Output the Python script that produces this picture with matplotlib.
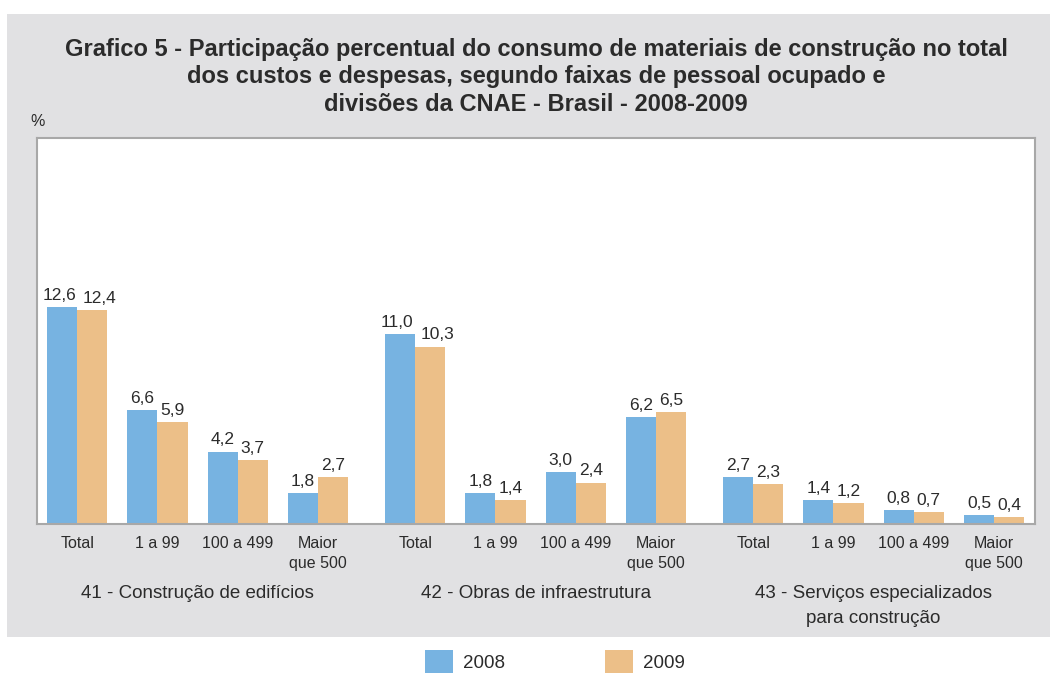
import matplotlib.pyplot as plt
from matplotlib.patches import Rectangle
import matplotlib.transforms as mtransforms

categories = ['Total', '1 a 99', '100 a 499', 'Maior\nque 500']
groups = ['41 - Construção de edifícios',
          '42 - Obras de infraestrutura',
          '43 - Serviços especializados\npara construção']
v2008 = [12.6, 6.6, 4.2, 1.8, 11.0, 1.8, 3.0, 6.2, 2.7, 1.4, 0.8, 0.5]
v2009 = [12.4, 5.9, 3.7, 2.7, 10.3, 1.4, 2.4, 6.5, 2.3, 1.2, 0.7, 0.4]

W, H = 1056, 673
blue = '#77b3e1'
orange = '#ecbf88'
txt = '#2b2b2b'
plt.rcParams['font.family'] = ['Liberation Sans', 'DejaVu Sans']

fig = plt.figure(figsize=(W / 100, H / 100), dpi=100)
fig.patches.append(Rectangle((7 / W, 1 - 637 / H), 1043 / W, 623 / H,
                             transform=fig.transFigure, facecolor='#e1e1e3',
                             edgecolor='none', zorder=-1))

ax = fig.add_axes([37 / W, 1 - 524 / H, 998 / W, 386 / H])
ax.set_facecolor('white')

gap = 1.21
xs = []
for g in range(3):
    for c in range(4):
        xs.append(g * (3 + gap) + c)
bw = 0.375
b1 = ax.bar([x - bw / 2 for x in xs], v2008, bw, color=blue, label='2008', zorder=2)
b2 = ax.bar([x + bw / 2 for x in xs], v2009, bw, color=orange, label='2009', zorder=2)

# value labels; two-digit pairs are pushed apart so they do not collide
for i in range(len(xs)):
    wide = v2008[i] >= 10 and v2009[i] >= 10
    for bars, vals, dx in ((b1, v2008, -3 if wide else 0), (b2, v2009, 7 if wide else 0)):
        r = bars[i]
        v = vals[i]
        ax.annotate(f'{v:.1f}'.replace('.', ','), (r.get_x() + r.get_width() / 2, v),
                    xytext=(dx * 0.72, 3), textcoords='offset points', ha='center',
                    va='bottom', fontsize=12.5, color=txt)

ax.set_xlim(-0.5, xs[-1] + 0.51)
ax.set_ylim(0, 22.4)
ax.set_yticks([])
ax.set_xticks(xs)
ax.set_xticklabels(categories * 3, fontsize=11.5, color=txt, linespacing=1.45)
ax.tick_params(axis='x', length=0, pad=8.5)
for s in ax.spines.values():
    s.set_color('#a8a8a8')
    s.set_linewidth(1.5)

trans = mtransforms.blended_transform_factory(ax.transData, fig.transFigure)
for g, name in enumerate(groups):
    cx = g * (3 + gap) + 1.5
    ax.text(cx, 1 - 585 / H, name, transform=trans, ha='center', va='top',
            fontsize=13.5, color=txt, linespacing=1.65)

fig.text(536 / W, 1 - 77 / H,
         'Grafico 5 - Participação percentual do consumo de materiais de construção no total\n'
         'dos custos e despesas, segundo faixas de pessoal ocupado e\n'
         'divisões da CNAE - Brasil - 2008-2009',
         ha='center', va='center', fontsize=17, fontweight='bold', color=txt,
         linespacing=1.25)
fig.text(30 / W, 1 - 121 / H, '%', ha='left', va='center', fontsize=11.5, color=txt)

fig.legend(handles=[b1, b2], loc='lower center', bbox_to_anchor=(555 / W, -1 / H),
           ncol=2, frameon=False, fontsize=13.5, handlelength=1.5, handleheight=1.6,
           handletextpad=0.55, columnspacing=5.3, borderaxespad=0, borderpad=0,
           labelcolor=txt)

fig.savefig('out.png', dpi=100)
